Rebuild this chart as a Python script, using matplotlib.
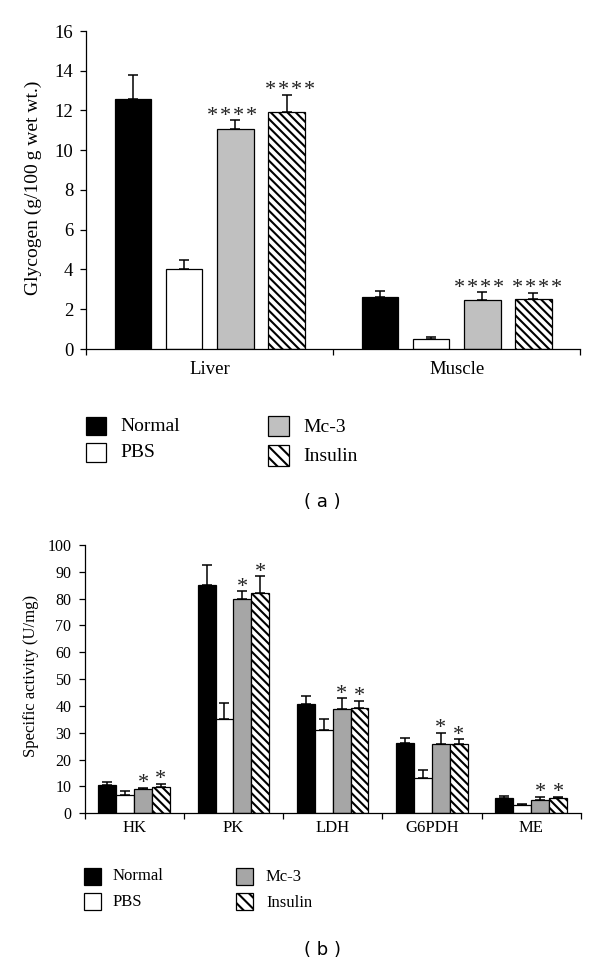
import matplotlib
matplotlib.use('Agg')
import matplotlib.pyplot as plt
import matplotlib.patches as mpatches
import numpy as np

plt.rcParams['font.family'] = ['Liberation Serif', 'DejaVu Serif']
plt.rcParams['hatch.linewidth'] = 1.5
plt.rcParams['hatch.color'] = 'black'

# ---------------- data ----------------
groups = ['Normal', 'PBS', 'Mc-3', 'Insulin']

tissues = ['Liver', 'Muscle']
glyc_normal = [12.6, 2.63]
glyc_pbs = [4.05, 0.5]
glyc_mc3 = [11.08, 2.46]
glyc_ins = [11.92, 2.53]
glyc_err_normal = [1.2, 0.3]
glyc_err_pbs = [0.45, 0.08]
glyc_err_mc3 = [0.42, 0.39]
glyc_err_ins = [0.88, 0.3]
glyc_sig_mc3 = ['****', '****']
glyc_sig_ins = ['****', '****']
glyc_yticks = [0, 2, 4, 6, 8, 10, 12, 14, 16]

enzymes = ['HK', 'PK', 'LDH', 'G6PDH', 'ME']
act_normal = [10.4, 85.2, 40.7, 26.2, 5.7]
act_pbs = [7.0, 35.0, 31.2, 13.0, 3.1]
act_mc3 = [9.1, 79.9, 39.0, 26.0, 5.1]
act_ins = [9.8, 82.1, 39.1, 26.0, 5.6]
act_err_normal = [1.4, 7.3, 3.0, 2.0, 0.8]
act_err_pbs = [1.4, 6.2, 4.1, 3.1, 0.3]
act_err_mc3 = [0.3, 2.8, 3.9, 4.1, 1.0]
act_err_ins = [1.3, 6.2, 2.8, 1.6, 0.6]
act_sig_mc3 = ['*', '*', '*', '*', '*']
act_sig_ins = ['*', '*', '*', '*', '*']
act_yticks = [0, 10, 20, 30, 40, 50, 60, 70, 80, 90, 100]

W, H = 600, 963
fig = plt.figure(figsize=(W / 100, H / 100), dpi=100)


def fx(px):
    return px / W


def fy(py):
    return 1 - py / H


HATCH = '\\\\\\\\'


def spaced(s):
    # small gap between asterisks, as in the reference
    return '\u200a'.join(s)


def draw_panel(ax, cats, series, errs, sig_mc3, sig_ins, width, offsets,
               mc3_color, yticks, tick_fs, lab_fs, star_fs, star_off, capsize,
               lab_pad, star_dx):
    n = len(cats)
    x = np.arange(n) + 0.5
    styles = [dict(color='black'),
              dict(color='white'),
              dict(color=mc3_color),
              dict(color='white', hatch=HATCH)]
    for vals, err, off, st in zip(series, errs, offsets, styles):
        ax.bar(x + off, vals, width, edgecolor='black', linewidth=0.9,
               zorder=2, **st)
        ax.errorbar(x + off, vals, yerr=[np.zeros(n), err], fmt='none',
                    ecolor='black', elinewidth=1.1, capsize=capsize,
                    capthick=1.1, zorder=3)
    for sigs, vals, err, off, dx in ((sig_mc3, series[2], errs[2], offsets[2], -star_dx),
                                     (sig_ins, series[3], errs[3], offsets[3], star_dx)):
        for i in range(n):
            ax.annotate(spaced(sigs[i]), (x[i] + off, vals[i] + err[i]),
                        xytext=(dx, star_off), textcoords='offset points',
                        ha='center', va='center', fontsize=star_fs,
                        color='#222222', zorder=4)
    ax.set_xlim(0, n)
    ax.set_ylim(0, yticks[-1])
    ax.set_yticks(yticks)
    ax.set_yticklabels([str(t) for t in yticks], fontsize=tick_fs)
    ax.set_xticks(np.arange(n + 1))
    ax.set_xticklabels([])
    ax.set_xticks(x, minor=True)
    ax.set_xticklabels(cats, minor=True, fontsize=lab_fs)
    ax.tick_params(axis='x', which='minor', length=0, pad=lab_pad)
    ax.tick_params(axis='both', which='major', direction='out', length=4.5,
                   width=0.9, color='black', pad=5)
    for s in ('top', 'right'):
        ax.spines[s].set_visible(False)
    for s in ('left', 'bottom'):
        ax.spines[s].set_linewidth(0.9)
    ax.spines['left'].set_zorder(5)
    ax.spines['bottom'].set_zorder(5)


# ---------------- panel (a) ----------------
ax1 = fig.add_axes([fx(86.4), fy(349), fx(580 - 86.4), (349 - 31) / H])
draw_panel(ax1, tissues,
           [glyc_normal, glyc_pbs, glyc_mc3, glyc_ins],
           [glyc_err_normal, glyc_err_pbs, glyc_err_mc3, glyc_err_ins],
           glyc_sig_mc3, glyc_sig_ins,
           width=0.148, offsets=[-0.311, -0.104, 0.104, 0.311],
           mc3_color='#c0c0c0', yticks=glyc_yticks, tick_fs=13.5,
           lab_fs=13.5, star_fs=16, star_off=3, capsize=3.5, lab_pad=9,
           star_dx=2.5)
fig.text(fx(33), fy(188), 'Glycogen (g/100\u2009g wet wt.)', rotation=90,
         ha='center', va='center', fontsize=14)

# ---------------- panel (b) ----------------
ax2 = fig.add_axes([fx(84.5), fy(813.3), fx(580.8 - 84.5), (813.3 - 545) / H])
draw_panel(ax2, enzymes,
           [act_normal, act_pbs, act_mc3, act_ins],
           [act_err_normal, act_err_pbs, act_err_mc3, act_err_ins],
           act_sig_mc3, act_sig_ins,
           width=0.18, offsets=[-0.27, -0.09, 0.09, 0.27],
           mc3_color='#a6a6a6', yticks=act_yticks, tick_fs=11.5,
           lab_fs=12, star_fs=16, star_off=3, capsize=3.5, lab_pad=5,
           star_dx=0)
fig.text(fx(31.5), fy(676), 'Specific activity (U/mg)', rotation=90,
         ha='center', va='center', fontsize=12)


# ---------------- legends ----------------
def legend_box(x0, y0, x1, y1, fc, hatch=None):
    r = mpatches.Rectangle((fx(x0), fy(y1)), fx(x1 - x0), (y1 - y0) / H,
                           transform=fig.transFigure, facecolor=fc,
                           edgecolor='black', linewidth=0.9, hatch=hatch)
    fig.patches.append(r)


# panel (a) legend
legend_box(86, 417, 106, 435, 'black')
legend_box(86, 443, 106, 462, 'white')
legend_box(268, 416, 289, 436, '#c0c0c0')
legend_box(268, 445, 289, 466, 'white', '\\\\\\')
fig.text(fx(120), fy(426), groups[0], ha='left', va='center', fontsize=14)
fig.text(fx(120), fy(452), groups[1], ha='left', va='center', fontsize=14)
fig.text(fx(303), fy(427), groups[2], ha='left', va='center', fontsize=14)
fig.text(fx(303), fy(456), groups[3], ha='left', va='center', fontsize=14)

# panel (b) legend
legend_box(84, 868, 101, 885, 'black')
legend_box(84, 893, 101, 910, 'white')
legend_box(236, 868, 253, 885, '#a6a6a6')
legend_box(236, 893, 253, 910, 'white', '\\\\\\')
fig.text(fx(113), fy(876), groups[0], ha='left', va='center', fontsize=12)
fig.text(fx(113), fy(902), groups[1], ha='left', va='center', fontsize=12)
fig.text(fx(266), fy(877), groups[2], ha='left', va='center', fontsize=12)
fig.text(fx(266), fy(903), groups[3], ha='left', va='center', fontsize=12)

# captions
fig.text(fx(322), fy(502), '( a )', ha='center', va='center', fontsize=13,
         family='DejaVu Sans')
fig.text(fx(322), fy(950), '( b )', ha='center', va='center', fontsize=13,
         family='DejaVu Sans')

fig.savefig('out.png', dpi=100, facecolor='white')
